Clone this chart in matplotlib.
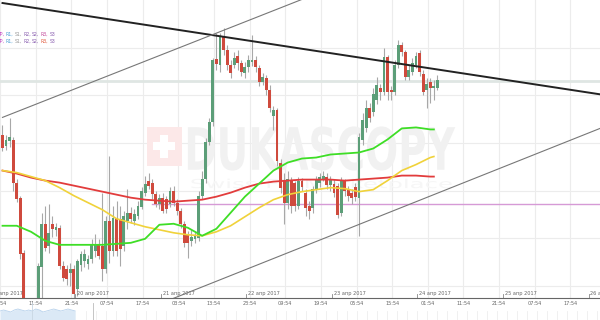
import numpy as np
import matplotlib
matplotlib.use("Agg")
import matplotlib.pyplot as plt
from matplotlib.textpath import TextPath
from matplotlib.patches import PathPatch, Rectangle
from matplotlib.transforms import Affine2D
from matplotlib.font_manager import FontProperties

# hourly candles (price units, arbitrary scale)
opens = [165, 154, 159, 160, 118, 103, 48, -5, -18, -20,
         -5, 34, 77, 55, 77, 71, 73, 35, 32, 28,
         32, 12, 36, 40, 37, 42, 50, 57, 55, 32,
         80, 50, 83, 82, 55, 80, 88, 80, 85, 94,
         108, 120, 118, 107, 97, 103, 102, 97, 110, 98,
         90, 77, 67, 60, 62, 63, 105, 122, 158, 178,
         241, 235, 263, 250, 235, 235, 244, 237, 227, 233,
         238, 240, 232, 218, 222, 210, 184, 190, 138, 120,
         98, 120, 118, 95, 120, 108, 95, 93, 112, 118,
         122, 124, 116, 117, 115, 88, 120, 112, 108, 114,
         103, 160, 172, 192, 188, 200, 212, 208, 243, 210,
         208, 235, 255, 248, 223, 228, 235, 247, 226, 210,
         218, 212, 212]
highs = [175, 165, 182, 163, 122, 105, 51, 0, -12, -5,
         38, 88, 95, 97, 85, 78, 76, 40, 36, 38,
         36, 42, 50, 52, 46, 62, 67, 62, 108, 85,
         145, 95, 100, 95, 90, 112, 94, 92, 100, 114,
         125, 128, 122, 110, 107, 108, 105, 114, 115, 102,
         93, 80, 70, 72, 70, 110, 130, 162, 182, 242,
         267, 267, 272, 255, 240, 248, 250, 240, 238, 245,
         265, 244, 235, 227, 225, 215, 194, 192, 142, 128,
         130, 124, 120, 124, 123, 112, 100, 115, 125, 128,
         130, 128, 125, 122, 118, 124, 122, 115, 112, 118,
         167, 187, 200, 197, 212, 223, 216, 252, 245, 214,
         240, 260, 258, 250, 235, 242, 248, 250, 230, 222,
         222, 220, 225]
lows = [150, 151, 153, 110, 99, 42, -10, -25, -30, -25,
        -10, 2, 50, 48, 64, 65, 32, 20, 16, 15,
        2, 5, 30, 34, 32, 38, 44, 42, 20, 28,
        38, 45, 45, 35, 50, 72, 78, 76, 82, 92,
        105, 112, 102, 94, 92, 88, 88, 94, 95, 86,
        73, 54, 43, 55, 58, 60, 102, 118, 155, 174,
        230, 228, 245, 230, 222, 232, 230, 224, 222, 228,
        234, 228, 214, 215, 205, 188, 170, 135, 108, 77,
        92, 88, 90, 92, 110, 85, 82, 88, 108, 114,
        120, 112, 110, 104, 83, 85, 105, 100, 97, 100,
        65, 155, 168, 178, 184, 196, 200, 205, 200, 200,
        205, 232, 244, 220, 220, 225, 232, 224, 205, 192,
        197, 200, 210]
closes = [152, 160, 163, 118, 102, 47, -5, -18, -20, -5,
          35, 77, 53, 68, 72, 74, 35, 23, 22, 32,
          7, 40, 47, 47, 42, 57, 57, 45, 32, 80,
          50, 83, 50, 52, 85, 88, 82, 87, 95, 110,
          117, 115, 107, 97, 103, 90, 92, 110, 98, 90,
          77, 58, 58, 64, 65, 105, 122, 158, 178, 240,
          236, 263, 250, 235, 227, 242, 237, 228, 233, 240,
          240, 233, 218, 223, 210, 192, 190, 140, 113, 98,
          122, 95, 95, 120, 114, 93, 90, 112, 122, 124,
          125, 116, 122, 108, 86, 120, 110, 105, 103, 104,
          163, 180, 192, 182, 206, 215, 208, 243, 208, 208,
          235, 255, 248, 223, 230, 237, 244, 228, 208, 216,
          212, 214, 220]

# moving averages, sampled every 4 candles
ma_idx = [0, 4, 8, 12, 16, 20, 24, 28, 32, 36, 40, 44, 48, 52, 56, 60,
          64, 68, 72, 76, 80, 84, 88, 92, 96, 100, 104, 108, 112, 116, 120, 121]
ma_red = [130, 127, 123, 120, 118, 115, 112, 109, 106, 103, 101, 100, 99, 100, 101, 104,
          108, 113, 117, 119, 120, 121, 121, 121, 120, 121, 122, 123, 125, 125, 124, 124]
ma_yellow = [130, 128, 124, 120, 113, 105, 98, 91, 82, 78, 74, 71, 68, 66, 65, 69,
             75, 84, 93, 101, 106, 109, 111, 113, 112, 109, 111, 120, 130, 136, 143, 144]
ma_green = [75, 75, 69, 60, 56, 56, 56, 56, 57, 58, 62, 76, 77, 73, 65, 72,
            88, 104, 117, 130, 138, 142, 143, 146, 147, 148, 152, 161, 172, 173, 171, 171]

# trend lines (index, price) endpoints
resist_line = [(0, 297), (167.6, 206)]
upper_channel = [(0, 183), (90, 309)]
lower_channel = [(47.5, 2), (167.6, 172)]
pivot_level = 97
last_price = 219

time_labels = ["01:54", "11:54", "21:54", "07:54", "17:54", "03:54", "13:54", "23:54",
               "09:54", "19:54", "05:54", "15:54", "01:54", "11:54", "21:54", "07:54", "17:54"]
date_labels = ["19 апр 2017", "20 апр 2017", "21 апр 2017", "22 апр 2017", "23 апр 2017",
               "24 апр 2017", "25 апр 2017", "26 апр 2017"]
nav_vals = [9, 10, 9, 8, 10, 11, 10, 9, 10, 9, 11, 10, 8, 9, 10, 11, 10, 9, 10, 11, 10, 9]

XMAX = 167.6
fig = plt.figure(figsize=(6, 3.2), dpi=100)
ax = fig.add_axes([0, 22 / 320, 1, 298 / 320])
ax.set_xlim(0, XMAX)
ax.set_ylim(3, 300)

idx = np.arange(len(opens))
o = np.array(opens)
c = np.array(closes)
cols = np.where(c >= o, "#5c9e78", "#cf4a3d")

# grid
tpos = -0.7 + 10 * np.arange(len(time_labels))
for t in tpos:
    ax.axvline(t, color="#ececec", lw=0.8, zorder=0)
for y in [15, 62.5, 110, 157.5, 205, 252.5]:
    ax.axhline(y, color="#ececec", lw=0.8, zorder=0)


# watermark
def stamp(txt, x0, y0, w, h, color, weight="bold"):
    tp = TextPath((0, 0), txt, size=10, prop=FontProperties(family="DejaVu Sans", weight=weight))
    bb = tp.get_extents()
    tr = Affine2D().translate(-bb.x0, -bb.y0).scale(w / bb.width, h / bb.height).translate(x0, y0)
    ax.add_patch(PathPatch(tp, transform=tr + ax.transData, fc=color, ec="none", zorder=0.5))


ax.add_patch(Rectangle((40.5, 135), 9.8, 38, fc="#fce8e8", ec="none", zorder=0.5))
ax.add_patch(Rectangle((44.3, 143), 2.2, 22, fc="white", ec="none", zorder=0.6))
ax.add_patch(Rectangle((42.3, 151), 6.2, 7, fc="white", ec="none", zorder=0.6))
stamp("DUKASCOPY", 52, 130, 75, 44, "#f1f1f1")
stamp("Swiss FX Marketplace", 53, 110, 73, 12, "#f6f6f6", weight="normal")

# levels
ax.axhline(last_price, color="#dfe6e3", lw=2, zorder=1)
ax.plot([41.9, XMAX], [pivot_level, pivot_level], color="#d69ad6", lw=1, zorder=1)

# candles
ax.vlines(idx, lows, highs, color="#a8a8a8", lw=0.8, zorder=2)
ax.bar(idx, c - o, bottom=o, width=0.8, color=cols, zorder=3)

# moving averages
ax.plot(ma_idx, ma_red, color="#e23c3c", lw=1.3, zorder=4)
ax.plot(ma_idx, ma_yellow, color="#f0d23a", lw=1.2, zorder=4)
ax.plot(ma_idx, ma_green, color="#3ede26", lw=1.3, zorder=4)

# trend lines
ax.plot(*zip(*resist_line), color="#222222", lw=1.4, zorder=5)
ax.plot(*zip(*upper_channel), color="#777777", lw=0.8, zorder=5)
ax.plot(*zip(*lower_channel), color="#777777", lw=0.8, zorder=5)

# axis
for s in ["top", "left", "right"]:
    ax.spines[s].set_visible(False)
ax.spines["bottom"].set_color("#666666")
ax.set_yticks([])
ax.set_xticks(tpos)
ax.set_xticklabels(time_labels, fontsize=3.6, color="#666666")
ax.tick_params(axis="x", length=0, pad=2)

dpos = -3.6 + 24 * np.arange(len(date_labels))
for d, lab in zip(dpos, date_labels):
    ax.plot([d, d], [3, 7], color="#888888", lw=0.6, clip_on=False)
    ax.text(d + 0.5, 4.5, lab, fontsize=3.6, color="#666666", va="bottom", ha="left")

# pivot legend, one coloured word after another on a shared baseline
legend_cols = [["#c43fc4", "#4a9fd4", "#9a9a9a", "#8a5fb0", "#8a5fb0", "#c2479a", "#8a5fb0"],
               ["#c43fc4", "#4a9fd4", "#9a9a9a", "#8a5fb0", "#8a5fb0", "#e0583a", "#8a5fb0"]]
names = ["PP,", "R1,", "S1,", "R2,", "S2,", "R3,", "S3"]
renderer = fig.canvas.get_renderer()
for row, ypx in enumerate([36, 43]):
    xpx = -3.0
    for n, col in zip(names, legend_cols[row]):
        t = fig.text(xpx / 600, 1 - ypx / 320, n, fontsize=3.3, color=col,
                     va="baseline", ha="left")
        xpx += t.get_window_extent(renderer).width + 1.3

# navigator strip
nav = fig.add_axes([0, 0, 1, 17 / 320])
nav.set_xlim(0, XMAX)
nav.set_ylim(0, 17)
nav.fill_between(np.arange(len(nav_vals)), 0, nav_vals, color="#dbe9f6", lw=0)
nav.plot(np.arange(len(nav_vals)), nav_vals, color="#b8d2ec", lw=0.6)
for t in np.arange(24, XMAX, 2.8):
    nav.axvline(t, ymax=0.55, color="#eeeeee", lw=0.6)
nav.axvline(9, color="#c8d6e2", lw=0.6)
nav.axvline(26, color="#bbbbbb", lw=0.6)
nav.axis("off")

fig.savefig("out.png", dpi=100)
